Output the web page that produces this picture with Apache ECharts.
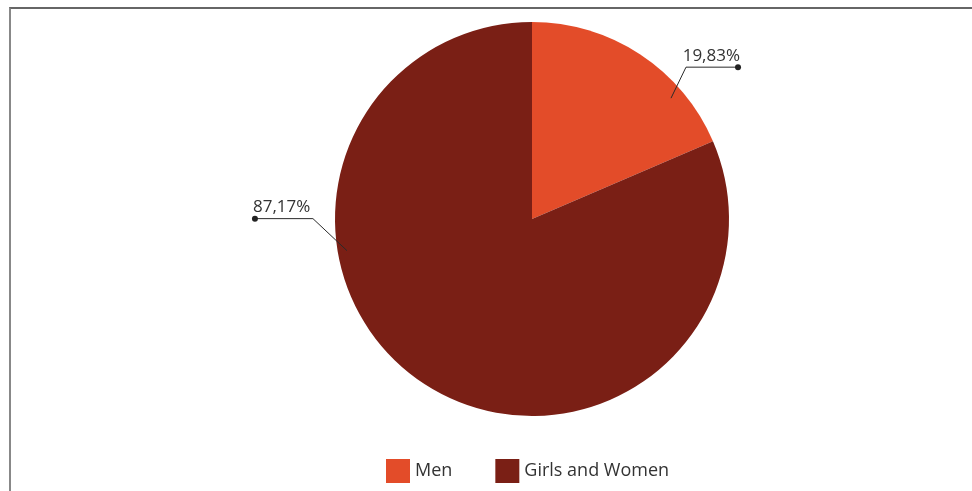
<!DOCTYPE html>
<html><head><meta charset="utf-8">
<script src="https://cdn.jsdelivr.net/npm/echarts@6/dist/echarts.min.js"></script>
<style>
html,body{margin:0;padding:0;background:#fff;overflow:hidden;}
#frame{position:absolute;left:9px;top:7px;width:1000px;height:600px;border-top:2px solid #666;border-left:2px solid #888;}
#chart{position:absolute;left:0;top:0;width:972px;height:491px;}
</style></head><body>
<div id="frame"></div>
<div id="chart"></div>
<script>
const categories = ['Men', 'Girls and Women'];
const values = [19.83, 87.17];
const labelTexts = ['19,83%', '87,17%'];
const colors = ['#E34C29', '#7A1F15'];

const CX = 532, CY = 219, R = 197;
// leader line styling: anchor angle (deg, clockwise from 12 o'clock), anchor radius fraction, elbow offset, tail length
const leaders = [
  { angle: 49, rf: 0.935, elbow: [15, -31], tail: 52 },
  { angle: 260.3, rf: 0.953, elbow: [-34, -32], tail: -58 }
];

function leaderPoints(i) {
  const L = leaders[i];
  const a = L.angle * Math.PI / 180;
  const p0 = [CX + Math.sin(a) * R * L.rf, CY - Math.cos(a) * R * L.rf];
  const p1 = [p0[0] + L.elbow[0], p0[1] + L.elbow[1]];
  const p2 = [p1[0] + L.tail, p1[1]];
  return [p0, p1, p2];
}

const data = categories.map((c, i) => ({ name: c, value: values[i], itemStyle: { color: colors[i] } }));
const font = "'Open Sans', sans-serif";

const chart = echarts.init(document.getElementById('chart'), null, { renderer: 'canvas' });
chart.setOption({
  animation: false,
  backgroundColor: 'transparent',
  legend: {
    data: categories,
    left: 386, top: 459, padding: 0,
    itemWidth: 24, itemHeight: 24, itemGap: 43,
    icon: 'rect',
    textStyle: { fontFamily: font, fontSize: 18, color: '#333' }
  },
  series: [
    {
      type: 'pie',
      z: 2,
      center: [CX, CY],
      radius: R,
      startAngle: 90,
      clockwise: true,
      data: data,
      itemStyle: { borderWidth: 0 },
      label: {
        show: true,
        formatter: p => labelTexts[p.dataIndex],
        fontFamily: font, fontSize: 17, color: '#333'
      },
      labelLine: { show: true, length: 20, length2: 40, lineStyle: { width: 0, opacity: 0 } },
      labelLayout: function (p) {
        const pts = leaderPoints(p.dataIndex);
        const right = pts[2][0] > pts[1][0];
        return {
          x: pts[2][0] + (right ? 2 : -2),
          y: pts[2][1] - 3,
          align: right ? 'right' : 'left',
          verticalAlign: 'bottom',
          labelLinePoints: pts
        };
      },
      emphasis: { disabled: true }
    },
    {
      type: 'pie',
      z: 5,
      center: [CX, CY],
      radius: R,
      startAngle: 90,
      clockwise: true,
      silent: true,
      legendHoverLink: false,
      data: categories.map((c, i) => ({ name: c, value: values[i] })),
      itemStyle: { color: 'rgba(0,0,0,0)', borderWidth: 0 },
      label: {
        show: true,
        formatter: '{d|}',
        rich: { d: { width: 6, height: 6, borderRadius: 3, backgroundColor: '#222' } }
      },
      labelLine: { show: true, length: 20, length2: 40, lineStyle: { color: '#2a2a2a', width: 1, opacity: 1 } },
      labelLayout: function (p) {
        const pts = leaderPoints(p.dataIndex);
        return { x: pts[2][0], y: pts[2][1], align: 'center', verticalAlign: 'middle', labelLinePoints: pts };
      },
      emphasis: { disabled: true }
    }
  ]
});
</script>
</body></html>
